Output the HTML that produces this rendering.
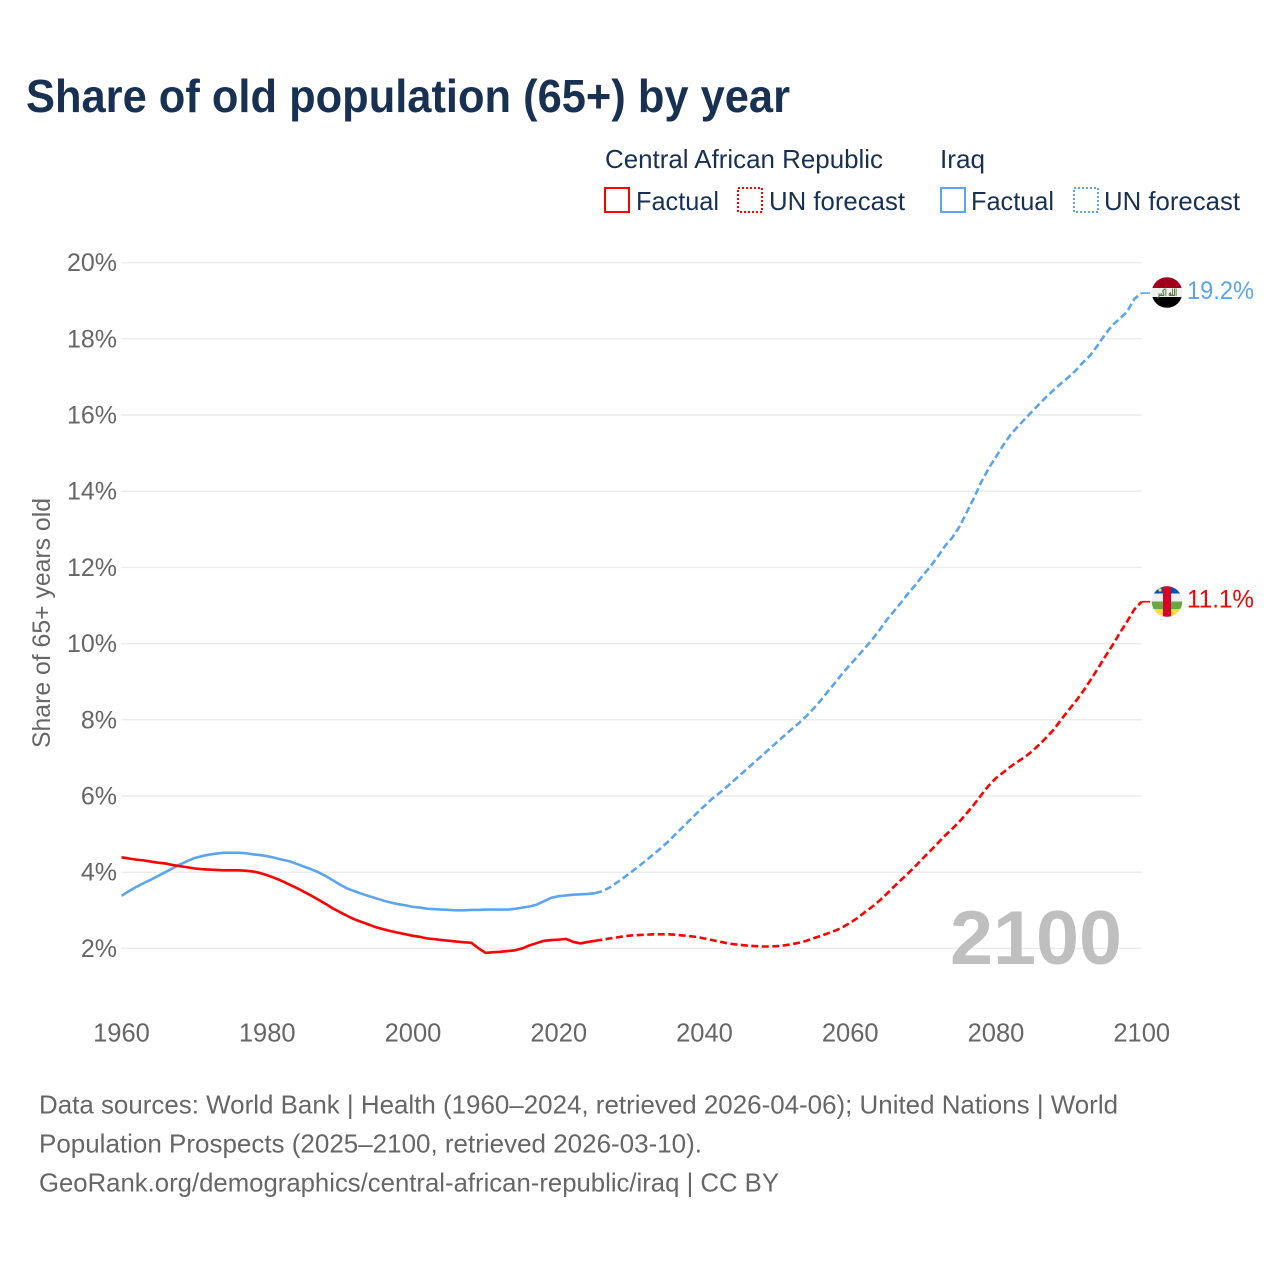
<!DOCTYPE html>
<html lang="en">
<head>
<meta charset="utf-8">
<title>Share of old population (65+) by year</title>
<style>
html,body{margin:0;padding:0;background:#fff;}
svg{display:block;font-family:"Liberation Sans",Arial,sans-serif;}
</style>
</head>
<body>
<svg id="chart" xmlns="http://www.w3.org/2000/svg" width="1280" height="1280" viewBox="0 0 1280 1280">
  <rect x="0" y="0" width="1280" height="1280" fill="#ffffff"/>
  <text x="26" y="112" font-size="46" font-weight="700" fill="#183153" textLength="764" lengthAdjust="spacingAndGlyphs">Share of old population (65+) by year</text>

  <g font-size="26" fill="#183153">
    <text x="605" y="168" textLength="278" lengthAdjust="spacingAndGlyphs">Central African Republic</text>
    <text x="940" y="168" textLength="45" lengthAdjust="spacingAndGlyphs">Iraq</text>
    <rect x="605" y="188" width="24" height="24" fill="none" stroke="#ff0000" stroke-width="2"/>
    <text x="636" y="210" textLength="83" lengthAdjust="spacingAndGlyphs">Factual</text>
    <rect x="738" y="188" width="24" height="24" fill="none" stroke="#ff0000" stroke-width="2" stroke-dasharray="2 2"/>
    <text x="769" y="210" textLength="136" lengthAdjust="spacingAndGlyphs">UN forecast</text>
    <rect x="941" y="188" width="24" height="24" fill="none" stroke="#5ca5ec" stroke-width="2"/>
    <text x="971" y="210" textLength="83" lengthAdjust="spacingAndGlyphs">Factual</text>
    <rect x="1074" y="188" width="24" height="24" fill="none" stroke="#5ca5ec" stroke-width="2" stroke-dasharray="2 2"/>
    <text x="1104" y="210" textLength="136" lengthAdjust="spacingAndGlyphs">UN forecast</text>
  </g>

  <g id="grid"></g>
  <g id="yticks"></g>
  <g id="xticks"></g>

  <text transform="translate(50,623) rotate(-90)" text-anchor="middle" font-size="25" fill="#666666" textLength="250" lengthAdjust="spacingAndGlyphs">Share of 65+ years old</text>

  <text x="950" y="964" font-size="76" font-weight="700" fill="#bfbfbf" textLength="172" lengthAdjust="spacingAndGlyphs">2100</text>

  <g id="series"></g>

  <g id="flag-iraq">
    <clipPath id="clip-iraq"><circle cx="1167" cy="292.5" r="15.3"/></clipPath>
    <g clip-path="url(#clip-iraq)">
      <rect x="1150" y="275" width="34" height="13.5" fill="#a2001d"/>
      <rect x="1150" y="288" width="34" height="9.5" fill="#f0f0f0"/>
      <rect x="1150" y="297" width="34" height="13" fill="#000000"/>
      <text x="1157" y="296" font-size="10" font-weight="700" fill="#496e2d" font-family="'DejaVu Sans',sans-serif" textLength="20" lengthAdjust="spacingAndGlyphs">الله أكبر</text>
    </g>
  </g>
  <g id="flag-car">
    <clipPath id="clip-car"><circle cx="1167" cy="601.5" r="15.3"/></clipPath>
    <g clip-path="url(#clip-car)">
      <rect x="1150" y="584" width="34" height="9.5" fill="#0052b4"/>
      <rect x="1150" y="593.5" width="34" height="8" fill="#f0f0f0"/>
      <rect x="1150" y="601.5" width="34" height="7.5" fill="#6da544"/>
      <rect x="1150" y="609" width="34" height="10" fill="#ffda44"/>
      <rect x="1163" y="584" width="8" height="36" fill="#d80027"/>
      <circle cx="1160" cy="590" r="1.6" fill="#ffda44"/>
    </g>
  </g>
  <g id="endlabels"></g>

  <g font-size="26" fill="#666666">
    <text x="39" y="1113.5" textLength="1079" lengthAdjust="spacingAndGlyphs">Data sources: World Bank | Health (1960–2024, retrieved 2026-04-06); United Nations | World</text>
    <text x="39" y="1152.5" textLength="663" lengthAdjust="spacingAndGlyphs">Population Prospects (2025–2100, retrieved 2026-03-10).</text>
    <text x="39" y="1191.5" textLength="740" lengthAdjust="spacingAndGlyphs">GeoRank.org/demographics/central-african-republic/iraq | CC BY</text>
  </g>
</svg>
<script>
const yTickValues = [2, 4, 6, 8, 10, 12, 14, 16, 18, 20];
const xTickYears = [1960, 1980, 2000, 2020, 2040, 2060, 2080, 2100];
const factualStartYear = 1960;
const forecastStartYear = 2025;

const carFactual = [
  4.39,4.36,4.33,4.31,4.28,4.25,4.23,4.19,4.16,4.13,
  4.10,4.08,4.07,4.06,4.05,4.05,4.05,4.04,4.02,3.98,
  3.92,3.85,3.77,3.68,3.59,3.49,3.39,3.28,3.17,3.05,
  2.95,2.85,2.76,2.69,2.62,2.55,2.50,2.45,2.41,2.37,
  2.33,2.30,2.26,2.24,2.22,2.20,2.18,2.16,2.15,2.00,
  1.88,1.90,1.91,1.93,1.95,2.00,2.08,2.14,2.20,2.22,
  2.23,2.25,2.17,2.13,2.17,2.20
];
const iraqFactual = [
  3.38,3.50,3.61,3.71,3.80,3.90,4.00,4.10,4.20,4.29,
  4.37,4.42,4.46,4.49,4.51,4.51,4.51,4.50,4.47,4.45,
  4.42,4.38,4.33,4.29,4.22,4.15,4.08,4.00,3.90,3.79,
  3.67,3.57,3.50,3.43,3.37,3.31,3.25,3.20,3.16,3.13,
  3.09,3.07,3.04,3.03,3.02,3.01,3.00,3.00,3.01,3.01,
  3.02,3.02,3.02,3.02,3.04,3.07,3.10,3.15,3.24,3.33,
  3.37,3.39,3.41,3.42,3.43,3.45
];
const carForecast = [
  2.20,2.23,2.26,2.29,2.32,
  2.34,2.35,2.36,2.37,2.37,2.37,2.36,2.34,2.32,2.30,
  2.26,2.22,2.18,2.14,2.11,2.09,2.07,2.06,2.05,2.05,
  2.06,2.08,2.11,2.15,2.20,2.27,2.33,2.40,2.47,2.56,
  2.67,2.80,2.95,3.09,3.25,3.43,3.62,3.80,3.98,4.17,
  4.37,4.56,4.76,4.96,5.14,5.33,5.55,5.78,6.03,6.27,
  6.47,6.62,6.77,6.90,7.03,7.18,7.36,7.55,7.76,8.02,
  8.26,8.50,8.76,9.05,9.35,9.66,9.96,10.28,10.58,10.90,
  11.10
];
const iraqForecast = [
  3.45,3.50,3.60,3.73,3.87,
  4.01,4.16,4.31,4.47,4.63,4.80,4.99,5.18,5.37,5.56,
  5.74,5.92,6.07,6.23,6.40,6.57,6.74,6.91,7.08,7.25,
  7.42,7.59,7.76,7.92,8.10,8.30,8.52,8.76,8.99,9.23,
  9.45,9.66,9.88,10.10,10.35,10.62,10.85,11.08,11.33,11.55,
  11.80,12.02,12.28,12.56,12.78,13.07,13.45,13.83,14.25,14.60,
  14.90,15.21,15.48,15.70,15.90,16.10,16.30,16.49,16.67,16.84,
  17.00,17.18,17.39,17.58,17.84,18.12,18.36,18.53,18.71,19.05,
  19.20
];

const SVG_NS = 'http://www.w3.org/2000/svg';
function xScale(year){ return 121.5 + (year - 1960) * (1141.7 - 121.5) / 140; }
function yScale(value){ return 1024.6 - 38.1 * value; }
function pathFor(values, startYear){
  return values.map(function(v, i){
    return (i ? 'L' : 'M') + xScale(startYear + i).toFixed(2) + ' ' + yScale(v).toFixed(2);
  }).join(' ');
}
function drawLine(d, color, dash, name, width){
  const p = document.createElementNS(SVG_NS, 'path');
  
  
  p.setAttribute('d', d);
  p.setAttribute('fill', 'none');
  p.setAttribute('stroke', color);
  p.setAttribute('stroke-width', width);
  p.setAttribute('stroke-linejoin', 'round');
  if (dash) p.setAttribute('stroke-dasharray', dash);
  document.getElementById('series').appendChild(p);
}

yTickValues.forEach(function(v){
  const line = document.createElementNS(SVG_NS, 'line');
  
  
  line.setAttribute('x1', xScale(1960));
  line.setAttribute('x2', xScale(2100));
  line.setAttribute('y1', yScale(v));
  line.setAttribute('y2', yScale(v));
  line.setAttribute('stroke', '#ececec');
  line.setAttribute('stroke-width', '1.5');
  document.getElementById('grid').appendChild(line);

  const t = document.createElementNS(SVG_NS, 'text');
  
  
  t.setAttribute('x', 117);
  t.setAttribute('y', yScale(v) + 8.5);
  t.setAttribute('text-anchor', 'end');
  t.setAttribute('font-size', '25');
  t.setAttribute('fill', '#666666');
  t.textContent = v + '%';
  document.getElementById('yticks').appendChild(t);
});

xTickYears.forEach(function(year){
  const t = document.createElementNS(SVG_NS, 'text');
  
  
  t.setAttribute('x', xScale(year));
  t.setAttribute('y', 1041.5);
  t.setAttribute('text-anchor', 'middle');
  t.setAttribute('font-size', '25.5');
  t.setAttribute('fill', '#666666');
  t.textContent = String(year);
  document.getElementById('xticks').appendChild(t);
});

drawLine(pathFor(iraqFactual, factualStartYear), '#5ca5ec', null, 'iraq-factual-line', '2.6');
drawLine(pathFor(iraqForecast, forecastStartYear), '#5ca5ec', '7 3.5', 'iraq-forecast-line', '2.6');
drawLine(pathFor(carFactual, factualStartYear), '#ff0000', null, 'car-factual-line', '2.6');
drawLine(pathFor(carForecast, forecastStartYear), '#ff0000', '7 3.5', 'car-forecast-line', '2.6');

const iraqLast = iraqForecast[iraqForecast.length - 1];
const carLast = carForecast[carForecast.length - 1];
drawLine('M' + xScale(2100) + ' ' + yScale(iraqLast) + ' L1150 ' + yScale(iraqLast), '#5ca5ec', null, 'iraq-flag-connector', '1.6');
drawLine('M' + xScale(2100) + ' ' + yScale(carLast) + ' L1150 ' + yScale(carLast), '#ff0000', null, 'car-flag-connector', '1.6');

const iraqLabel = document.createElementNS(SVG_NS, 'text');


iraqLabel.setAttribute('x', 1187);
iraqLabel.setAttribute('y', yScale(iraqLast) + 6);
iraqLabel.setAttribute('font-size', '25');
iraqLabel.setAttribute('fill', '#5ca5ec');
iraqLabel.setAttribute('textLength', '67');
iraqLabel.setAttribute('lengthAdjust', 'spacingAndGlyphs');
iraqLabel.textContent = iraqLast.toFixed(1) + '%';
document.getElementById('endlabels').appendChild(iraqLabel);

const carLabel = document.createElementNS(SVG_NS, 'text');


carLabel.setAttribute('x', 1187);
carLabel.setAttribute('y', yScale(carLast) + 6);
carLabel.setAttribute('font-size', '25');
carLabel.setAttribute('fill', '#ff0000');
carLabel.setAttribute('textLength', '67');
carLabel.setAttribute('lengthAdjust', 'spacingAndGlyphs');
carLabel.textContent = carLast.toFixed(1) + '%';
document.getElementById('endlabels').appendChild(carLabel);
</script>
</body>
</html>
